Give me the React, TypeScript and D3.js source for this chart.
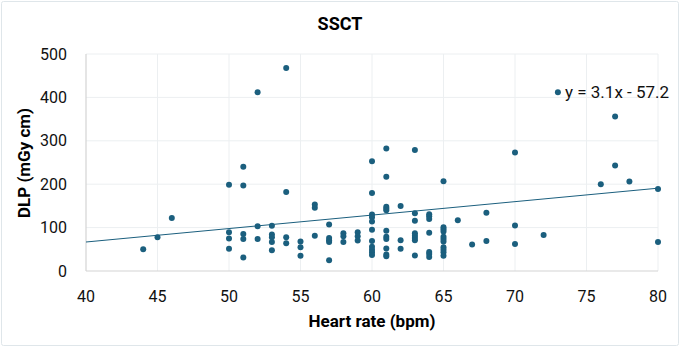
import React from "react";
import * as d3 from "d3";

const heartRate: number[] = [
  44, 45, 46,
  50, 50, 50, 50,
  51, 51, 51, 51, 51,
  52, 52, 52,
  53, 53, 53, 53, 53,
  54, 54, 54, 54,
  55, 55, 55,
  56, 56, 56,
  57, 57, 57, 57, 57,
  58, 58, 58,
  59, 59, 59,
  60, 60, 60, 60, 60, 60, 60, 60, 60, 60, 60,
  61, 61, 61, 61, 61, 61, 61, 61, 61, 61, 61,
  62, 62, 62,
  63, 63, 63, 63, 63, 63, 63, 63,
  64, 64, 64, 64, 64, 64, 64,
  65, 65, 65, 65, 65, 65, 65, 65, 65, 65, 65,
  66, 67, 68, 68,
  70, 70, 70,
  72, 73, 76, 77, 77, 78, 80, 80,
];

const dlp: number[] = [
  50, 78, 122,
  199, 89, 75, 51,
  240, 197, 85, 74, 31,
  412, 103, 74,
  104, 84, 78, 67, 48,
  468, 182, 78, 64,
  68, 55, 35,
  153, 146, 81,
  107, 76, 71, 67, 25,
  87, 80, 67,
  89, 80, 70,
  253, 180, 130, 124, 114, 95, 69, 56, 49, 43, 37,
  282, 217, 148, 144, 140, 93, 79, 74, 52, 38, 34,
  150, 71, 51,
  279, 133, 116, 87, 81, 76, 71, 36,
  131, 126, 120, 88, 44, 39, 32,
  207, 101, 96, 91, 79, 74, 68, 55, 49, 43, 35,
  117, 61, 134, 69,
  273, 105, 62,
  83, 412, 200, 356, 243, 206, 189, 67,
];

const xTicks: number[] = [40, 45, 50, 55, 60, 65, 70, 75, 80];
const yTicks: number[] = [0, 100, 200, 300, 400, 500];
const trendSlope = 3.1;
const trendIntercept = -57.2;
const trendLabel = "y = 3.1x - 57.2";
const chartTitle = "SSCT";
const xTitle = "Heart rate (bpm)";
const yTitle = "DLP (mGy cm)";

export default function App() {
  const W = 680;
  const H = 347;
  const left = 86;
  const right = 658;
  const top = 54;
  const bottom = 271;
  const x = d3.scaleLinear().domain([40, 80]).range([left, right]);
  const y = d3.scaleLinear().domain([0, 500]).range([bottom, top]);
  const color = "#1b5f7e";
  const font = "Roboto, 'Liberation Sans', Arial, sans-serif";
  const line = d3
    .line<number>()
    .x((d) => x(d))
    .y((d) => y(trendSlope * d + trendIntercept));

  return (
    <svg
      width={W}
      height={H}
      style={{ position: "absolute", left: 0, top: 0, background: "#fff" }}
      fontFamily={font}
    >
      <rect x={1.5} y={1.5} width={W - 3} height={H - 3} fill="#fff" stroke="#dfe6ea" strokeWidth={1} rx={2} />
      <text x={340} y={30} textAnchor="middle" fontSize={18} fontWeight="bold" fill="#000">
        {chartTitle}
      </text>
      {yTicks.filter((t) => t > 0).map((t) => (
        <line key={"gy" + t} x1={left} x2={right} y1={y(t)} y2={y(t)} stroke="#eceff1" strokeWidth={1} />
      ))}
      {xTicks.filter((t) => t > 40).map((t) => (
        <line key={"gx" + t} x1={x(t)} x2={x(t)} y1={top} y2={bottom} stroke="#eceff1" strokeWidth={1} />
      ))}
      <line x1={left} x2={left} y1={top} y2={bottom} stroke="#d4d4d4" strokeWidth={1.2} />
      <line x1={left} x2={right} y1={bottom} y2={bottom} stroke="#d4d4d4" strokeWidth={1.2} />
      {yTicks.map((t) => (
        <text key={"ly" + t} x={67} y={y(t)} dy="0.35em" textAnchor="end" fontSize={16} fill="#111">
          {t}
        </text>
      ))}
      {xTicks.map((t) => (
        <text key={"lx" + t} x={x(t)} y={302} textAnchor="middle" fontSize={16} fill="#111">
          {t}
        </text>
      ))}
      <path d={line([40, 80]) || ""} fill="none" stroke={color} strokeWidth={1} />
      {heartRate.map((hr, i) => (
        <circle key={"p" + i} cx={x(hr)} cy={y(dlp[i])} r={3} fill={color} />
      ))}
      <text x={565} y={92} dy="0.35em" fontSize={17} fill="#111">
        {trendLabel}
      </text>
      <text x={372} y={327} textAnchor="middle" fontSize={17} fontWeight="bold" fill="#000">
        {xTitle}
      </text>
      <text
        transform={`translate(30,163) rotate(-90)`}
        textAnchor="middle"
        fontSize={17}
        fontWeight="bold"
        fill="#000"
      >
        {yTitle}
      </text>
    </svg>
  );
}
